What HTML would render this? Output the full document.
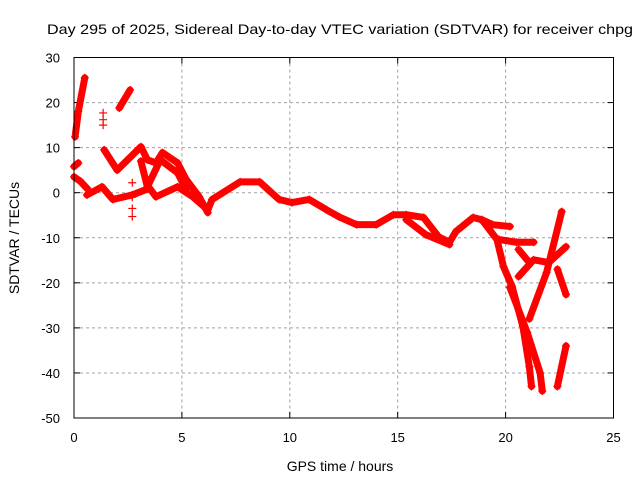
<!DOCTYPE html>
<html><head><meta charset="utf-8"><style>
body{margin:0;background:#fff;}
svg{display:block;font-family:"Liberation Sans",sans-serif;}
</style></head><body>
<svg id="chart" width="640" height="480" viewBox="0 0 640 480">
<rect width="640" height="480" fill="#fff"/>
<text x="47" y="34" font-size="14" textLength="586" lengthAdjust="spacingAndGlyphs">Day 295 of 2025, Sidereal Day-to-day VTEC variation (SDTVAR) for receiver chpg</text>
<text x="340" y="471" font-size="14" text-anchor="middle">GPS time / hours</text>
<text transform="translate(19,238) rotate(-90)" font-size="14" text-anchor="middle">SDTVAR / TECUs</text>
<g id="grid"></g><g id="ticks"></g><g id="marks"></g>
<rect x="74" y="57.5" width="539.5" height="360.5" fill="none" stroke="#000" stroke-width="1"/>
</svg>
<script>
const xTicks=[0,5,10,15,20,25];
const yTicks=[30,20,10,0,-10,-20,-30,-40,-50];
const s1=[[0.6,-0.5],[1.3,1.3],[1.8,-1.5],[2.7,-0.5],[3.5,1],[3.8,-0.9],[4.8,1.3],[5.5,-0.9],[6.2,-3.8],[6.4,-1.5],[7.7,2.4],[8.6,2.4],[9.5,-1.5],[10.1,-2.2],[10.9,-1.5],[11.7,-3.8],[12.3,-5.4],[13.1,-7.1],[14,-7.1],[14.8,-4.9],[15.4,-4.9],[16.2,-5.5],[16.9,-9.8],[17.4,-11],[17.7,-8.6],[18.5,-5.5],[18.9,-6],[19.4,-7.1],[20.2,-7.5]];
const s2=[[15.4,-6],[16.3,-9.3],[17.4,-11.5]];
const s3=[[18.9,-6],[19.6,-10.4],[19.9,-16.4],[20.3,-20.8],[20.8,-29.7],[21.1,-38.6],[21.2,-43]];
const s4=[[19.7,-10.4],[20.5,-11],[21.3,-11]];
const s5=[[20.2,-21],[21,-31],[21.6,-40],[21.7,-44]];
const s6=[[21.1,-28],[21.9,-17.7],[22.6,-4.2]];
const s7=[[20.6,-18.6],[21.3,-14.9],[22,-15.5],[22.8,-12]];
const s8=[[22.4,-17],[22.8,-22.6]];
const s9=[[20.6,-12.6],[21.1,-15.5]];
const s10=[[22.4,-43],[22.8,-34]];
const s11=[[1.4,9.5],[2,5],[3.1,10.2],[3.4,7.3],[3.8,6.6],[4.1,8.9],[4.8,6.6],[5.2,2.9],[5.8,-0.9],[6.2,-4.4]];
const s12=[[3.1,7],[3.4,1.3],[4,7.3],[4.8,4.4],[5.2,0.7]];
const s13=[[0.05,12.4],[0.2,18],[0.5,25.5]];
const s14=[[2.1,18.8],[2.6,22.8]];
const s15=[[1.35,15],[1.35,16.2],[1.35,17.7]];
const s16=[[0,5.8],[0.2,6.6]];
const s17=[[0,3.5],[0.3,2.5],[0.65,0.7]];
const s18=[[2.7,2.2],[2.7,-1],[2.7,-3.5],[2.7,-5.3]];
const lineSeries=[s1,s2,s3,s4,s5,s6,s7,s8,s9,s10,s11,s12,s13,s14,s16,s17];
const pointSeries=[s15,s18];
const X=v=>74+v*(539.5/25);
const Y=v=>57.5+(30-v)*(360.5/80);
const NS="http://www.w3.org/2000/svg";
function mk(t,a,p){const e=document.createElementNS(NS,t);for(const k in a)e.setAttribute(k,a[k]);p.appendChild(e);return e;}
const grid=document.getElementById('grid'),ticks=document.getElementById('ticks'),marks=document.getElementById('marks');
xTicks.forEach(v=>{
 if(v>0&&v<25){const g=mk('line',{x1:X(v),x2:X(v),y1:57.5,y2:418,stroke:'#a0a0a0','stroke-dasharray':'3,3'},grid);
 
 }
 mk('line',{x1:X(v),x2:X(v),y1:418,y2:412,stroke:'#000'},ticks);
 mk('line',{x1:X(v),x2:X(v),y1:57.5,y2:63.5,stroke:'#000'},ticks);
 const t=mk('text',{x:X(v),y:442,'font-size':13,'text-anchor':'middle'},ticks);t.textContent=v;
 
 
});
yTicks.forEach(v=>{
 if(v<30&&v>-50){const g=mk('line',{x1:74,x2:613.5,y1:Y(v),y2:Y(v),stroke:'#a0a0a0','stroke-dasharray':'3,3'},grid);
 
 }
 mk('line',{x1:74,x2:80,y1:Y(v),y2:Y(v),stroke:'#000'},ticks);
 mk('line',{x1:613.5,x2:607.5,y1:Y(v),y2:Y(v),stroke:'#000'},ticks);
 const t=mk('text',{x:60,y:Y(v)+5,'font-size':13,'text-anchor':'end'},ticks);t.textContent=v;
 
 
});
function plus(x,y){mk('path',{d:`M${X(x)-4},${Y(y)}h8M${X(x)},${Y(y)-4}v8`,stroke:'#f00','stroke-width':1.2},marks);}
lineSeries.forEach(s=>{
 const p=mk('polyline',{points:s.map(d=>X(d[0])+','+Y(d[1])).join(' '),fill:'none',stroke:'#f00','stroke-width':7,'stroke-linejoin':'round','stroke-linecap':'round'},marks);
 
 
 s.forEach(d=>plus(d[0],d[1]));
});
pointSeries.forEach(s=>s.forEach(d=>plus(d[0],d[1])));
</script>
</body></html>
